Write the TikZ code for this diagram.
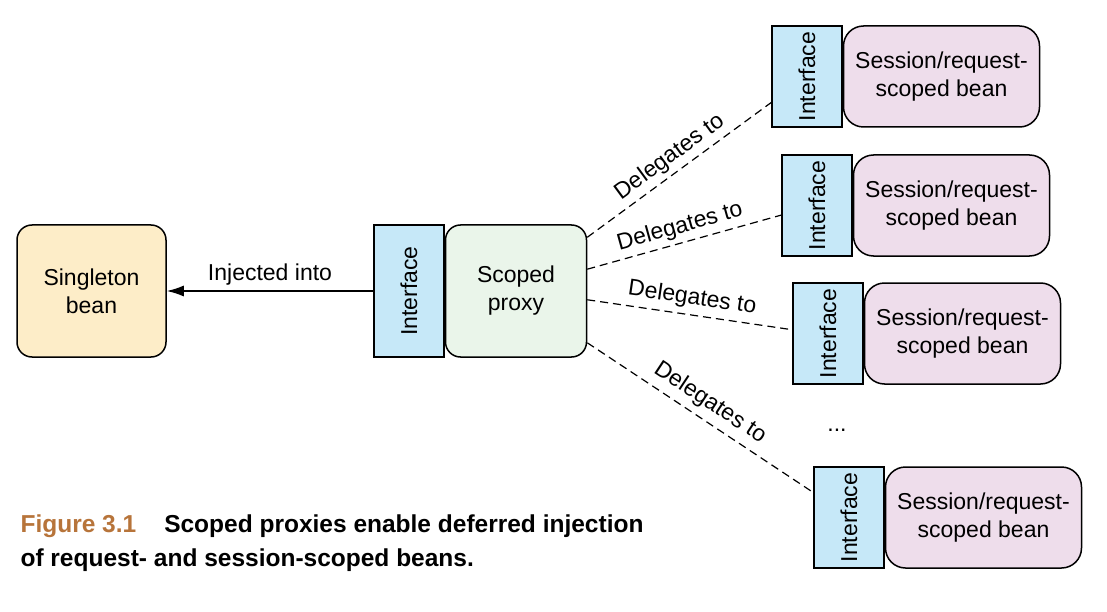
\documentclass[tikz,border=0pt]{standalone}
\usepackage{fontspec}
\setmainfont{Liberation Sans}
\usepackage{graphicx}
\usetikzlibrary{positioning, arrows.meta}

\definecolor{singletonfill}{RGB}{253,237,200}
\definecolor{proxyfill}{RGB}{234,245,234}
\definecolor{ifacefill}{RGB}{198,232,248}
\definecolor{beanfill}{RGB}{238,221,235}
\definecolor{figbrown}{RGB}{183,116,58}

\begin{document}
\begin{tikzpicture}[
        x=1pt, y=1pt,
        node distance=0pt,
        every node/.style={font=\fontsize{23}{28}\selectfont},
        beanbox/.style={draw=black, line width=1.5pt, rounded corners=15pt, align=center, inner sep=0pt, minimum height=132pt},
        ifacebox/.style={draw=black, line width=1.5pt, fill=ifacefill, inner sep=0pt, minimum width=70pt},
        sessbox/.style={beanbox, fill=beanfill, rounded corners=20pt, minimum width=196pt, minimum height=101pt},
        delegate/.style={dash pattern=on 8pt off 5pt, line width=1.2pt},
        caption/.style={anchor=base west, font=\fontsize{24.5}{29}\selectfont\bfseries}
    ]
    \useasboundingbox (0,0) rectangle (1107,-612);

    % singleton and proxy
    \node[beanbox, fill=singletonfill, minimum width=149pt] (single) at (91.5,-291) {Singleton\\bean};
    \node[ifacebox, minimum height=132pt] (ifP) at (409,-291) {\rotatebox{90}{Interface}};
    \node[beanbox, fill=proxyfill, minimum width=141pt, right=of ifP] (proxy) {Scoped\\proxy};
    \node[ifacebox, minimum height=132pt] at (ifP) {\rotatebox{90}{Interface}};

    \draw[-{Latex[length=17pt, width=11pt]}, line width=1.5pt] (ifP) -- node[above=2pt] (inj) {Injected into} (single);

    % session/request-scoped beans
    \node[ifacebox, minimum height=101pt] (ifA) at (807,-76.5) {\rotatebox{90}{Interface}};
    \node[sessbox, right=of ifA] (beanA) {Session/request-\\scoped bean};
    \node[ifacebox, minimum height=101pt] (ifB) at (817,-205.5) {\rotatebox{90}{Interface}};
    \node[sessbox, right=of ifB] (beanB) {Session/request-\\scoped bean};
    \node[ifacebox, minimum height=101pt] (ifC) at (828,-333.5) {\rotatebox{90}{Interface}};
    \node[sessbox, right=of ifC] (beanC) {Session/request-\\scoped bean};
    \node (dots) at (837,-430) {...};
    \node[ifacebox, minimum height=101pt] (ifD) at (849,-517.5) {\rotatebox{90}{Interface}};
    \node[sessbox, right=of ifD] (beanD) {Session/request-\\scoped bean};

    \draw[delegate] (proxy.37) -- node[midway, sloped, above=1pt] {Delegates to} (ifA.216);
    \draw[delegate] (proxy.17) -- node[midway, sloped, above=1pt] {Delegates to} (ifB.195);
    \draw[delegate] (proxy.-7) -- node[midway, sloped, above=2pt] {Delegates to} (ifC.174);
    \draw[delegate] (proxy.-36) -- node[midway, sloped, above=3pt] {Delegates to} (ifD.145);

    % caption
    \node[caption] (cap1) at (17,-532) {{\color{figbrown}Figure 3.1}\hspace{28pt}Scoped proxies enable deferred injection};
    \node[caption] (cap2) at (17,-566) {of request- and session-scoped beans.};
\end{tikzpicture}
\end{document}
